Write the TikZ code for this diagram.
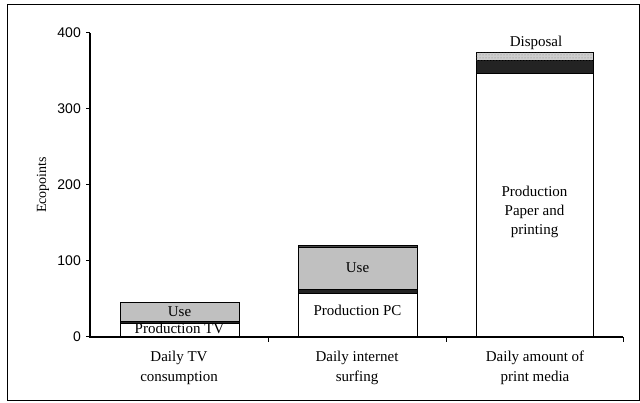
\documentclass[tikz,border=0pt]{standalone}
\usepackage{fontspec}
\setmainfont{Liberation Serif}
\setsansfont{Liberation Sans}
\usepackage{tikz}
\usetikzlibrary{patterns}
\definecolor{usegray}{RGB}{192, 192, 192}
\definecolor{dispgray}{RGB}{205, 205, 205}
\definecolor{darkband}{RGB}{35, 35, 35}
\definecolor{topband}{RGB}{70, 70, 70}

\begin{document}
\begin{tikzpicture}[x=1pt, y=1pt,
  seg/.style={draw=black, line width=0.8pt},
  barlab/.style={font=\fontsize{15}{19}\selectfont, align=center, inner sep=0pt},
  catlab/.style={font=\fontsize{15}{20}\selectfont, align=center, inner sep=0pt},
  ticklab/.style={font=\sffamily\fontsize{14}{14}\selectfont, anchor=east, inner sep=0pt}
]
  \useasboundingbox (0,0) rectangle (640,403);
  \draw[line width=1pt] (7,2) rectangle (639.5,398);

  \begin{scope}[shift={(0pt,66pt)}, y=0.76pt]
    % TV
    \filldraw[seg, fill=white] (120,0) rectangle (239,18);
    \filldraw[seg, fill=darkband] (120,18) rectangle (239,21);
    \filldraw[seg, fill=usegray] (120,21) rectangle (239,45);
    % internet
    \filldraw[seg, fill=white] (298,0) rectangle (417,58);
    \filldraw[seg, fill=darkband] (298,58) rectangle (417,62);
    \filldraw[seg, fill=usegray] (298,62) rectangle (417,118);
    \filldraw[seg, fill=topband] (298,118) rectangle (417,121);
    % print media
    \filldraw[seg, fill=white] (476,0) rectangle (593,347);
    \filldraw[seg, fill=darkband] (476,347) rectangle (593,364);
    \filldraw[seg, fill=dispgray] (476,364) rectangle (593,374);
    \fill[pattern=dots, pattern color=gray] (476,364) rectangle (593,374);

    % axes
    \draw[line width=1.1pt] (90,400) -- (90,0) -- (623,0);
    \foreach \v in {0,100,...,400} {
      \draw[line width=1pt] (86,\v) -- (90,\v);
      \node[ticklab] (tick\v) at (81,\v) {\v};
    }
    \foreach \x in {268,446,623}
      \draw[line width=1pt] (\x,0) -- (\x,-7);

    \node[barlab] (useTV) at (179.5,33) {Use};
    \node[barlab] (prodTV) at (179.5,11) {Production TV};
    \node[barlab] (useWeb) at (357.5,91) {Use};
    \node[barlab] (prodWeb) at (357.5,35) {Production PC};
    \node[barlab] (prodPrint) at (534.5,164) {Production\\Paper and\\printing};
    \node[barlab] (dispPrint) at (536,387) {Disposal};
  \end{scope}

  \node[font=\fontsize{14}{14}\selectfont, rotate=90, inner sep=0pt] (ylab) at (43,218) {Ecopoints};
  \node[catlab] (catTV) at (179,35) {Daily TV\\consumption};
  \node[catlab] (catWeb) at (357,35) {Daily internet\\surfing};
  \node[catlab] (catPrint) at (535,35) {Daily amount of\\print media};
\end{tikzpicture}
\end{document}
